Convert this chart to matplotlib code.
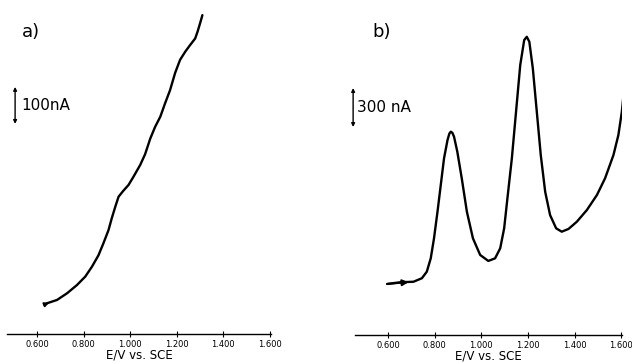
import numpy as np
import matplotlib
matplotlib.use("Agg")
import matplotlib.pyplot as plt

# panel a: potential (V vs SCE) and current (nA, relative to start)
pot_a = [0.643, 0.686, 0.729, 0.771, 0.807, 0.836, 0.864, 0.885, 0.907, 0.921,
         0.936, 0.950, 0.969, 0.993, 1.014, 1.043, 1.064, 1.086, 1.107, 1.129,
         1.150, 1.171, 1.193, 1.214, 1.236, 1.257, 1.279, 1.289, 1.300, 1.310]
cur_a = [2, 11, 29, 51, 74, 101, 132, 164, 200, 232,
         263, 290, 305, 322, 344, 376, 405, 447, 479, 506,
         543, 578, 625, 660, 682, 700, 718, 736, 759, 781]

# panel b
pot_b = [0.596, 0.652, 0.709, 0.745, 0.766, 0.783, 0.797, 0.812, 0.826, 0.840,
         0.855, 0.863, 0.869, 0.876, 0.883, 0.897, 0.916, 0.938, 0.964, 0.995,
         1.030, 1.059, 1.081, 1.098, 1.112, 1.131, 1.149, 1.167, 1.184, 1.195,
         1.206, 1.221, 1.238, 1.255, 1.274, 1.295, 1.321, 1.345, 1.374, 1.410,
         1.453, 1.496, 1.531, 1.567, 1.588, 1.603, 1.610]
cur_b = [8, 21, 25, 52, 102, 205, 359, 564, 769, 974,
         1115, 1165, 1179, 1170, 1140, 1025, 821, 564, 359, 231,
         185, 205, 282, 436, 667, 974, 1333, 1692, 1884, 1909,
         1871, 1666, 1333, 1000, 717, 538, 436, 410, 431, 487,
         577, 692, 821, 1000, 1153, 1333, 1461]

ticks = [0.6, 0.8, 1.0, 1.2, 1.4, 1.6]
tick_labels = ["0.600", "0.800", "1.000", "1.200", "1.400", "1.600"]
xlabel = "E/V vs. SCE"

fig = plt.figure(figsize=(6.32, 3.63), dpi=100)


def style(ax, xlim, ylim):
    ax.set_xlim(*xlim)
    ax.set_ylim(*ylim)
    for s in ["top", "right", "left"]:
        ax.spines[s].set_visible(False)
    ax.spines["bottom"].set_linewidth(1.0)
    ax.set_yticks([])
    ax.set_xticks(ticks)
    ax.set_xticklabels(tick_labels)
    ax.tick_params(axis="x", direction="inout", length=4, width=0.8,
                   labelsize=6, pad=2)
    ax.set_xlabel(xlabel, fontsize=8.5, labelpad=0)
    ax.patch.set_alpha(0)


line_kw = dict(color="black", lw=1.7, solid_capstyle="round",
               solid_joinstyle="round")

# a)
ax1 = fig.add_axes([0.011, 0.080, 0.418, 0.92])
style(ax1, (0.471, 1.605), (-81, 822))
ax1.plot(pot_a, cur_a, **line_kw)
ax1.annotate("", xy=(0.652, 4), xytext=(0.630, -2),
             arrowprops=dict(arrowstyle="-|>", color="black", lw=1.4,
                             mutation_scale=6, shrinkA=0, shrinkB=0))
ax1.annotate("", xy=(0.506, 587), xytext=(0.506, 487), annotation_clip=False,
             arrowprops=dict(arrowstyle="<|-|>", color="black", lw=1.0,
                             mutation_scale=5, shrinkA=0, shrinkB=0))
ax1.text(0.531, 537, "100nA", fontsize=11, va="center", ha="left")

# b)
ax2 = fig.add_axes([0.5617, 0.077, 0.423, 0.923])
style(ax2, (0.458, 1.605), (-385, 2192))
ax2.plot(pot_b, cur_b, **line_kw)
ax2.annotate("", xy=(0.688, 22), xytext=(0.596, 8),
             arrowprops=dict(arrowstyle="-|>", color="black", lw=1.4,
                             mutation_scale=9, shrinkA=0, shrinkB=0))
ax2.annotate("", xy=(0.450, 1515), xytext=(0.450, 1215), annotation_clip=False,
             arrowprops=dict(arrowstyle="<|-|>", color="black", lw=1.0,
                             mutation_scale=5, shrinkA=0, shrinkB=0))
ax2.text(0.467, 1365, "300 nA", fontsize=11, va="center", ha="left")

fig.text(22 / 632, 1 - 32 / 363, "a)", fontsize=13, va="center", ha="left")
fig.text(372 / 632, 1 - 32 / 363, "b)", fontsize=13, va="center", ha="left")

fig.savefig("out.png", dpi=100)
